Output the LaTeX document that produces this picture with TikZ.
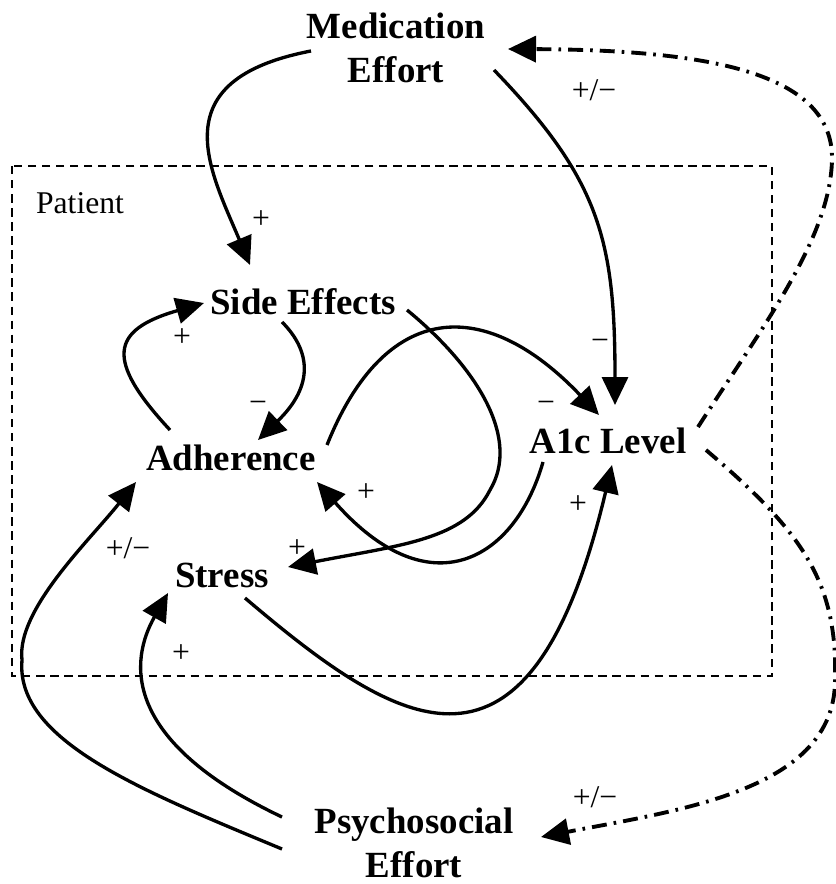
\documentclass[tikz,border=0pt]{standalone}
\usepackage{fontspec}
\setmainfont{Liberation Serif}
\usetikzlibrary{arrows.meta}

\begin{document}
\begin{tikzpicture}[x=0.02cm, y=-0.02cm, every node/.style={font=\fontsize{18}{21}\selectfont}]
  \tikzstyle{var}=[font=\bfseries\fontsize{21}{25}\selectfont,align=center,inner sep=0pt]
  \tikzstyle{link}=[-{Triangle[length=0.56cm,width=0.52cm]},line width=1.9pt]
  \tikzstyle{policy}=[link,line width=2.2pt,dash pattern=on 8.5pt off 4pt on 1.5pt off 4pt]
  \useasboundingbox (0,0) rectangle (835,884);
  % patient boundary
  \draw[dash pattern=on 4.8pt off 3.2pt,line width=1pt] (12,166) rectangle (772,676);
  \node (pat) at (80,203) {Patient};
  \node[var] (med) at (396,48) {Medication\\Effort};
  \node[var] (side) at (303,302) {Side Effects};
  \node[var] (adh) at (231,458) {Adherence};
  \node[var] (aic) at (608,441) {A1c Level};
  \node[var] (str) at (222,575) {Stress};
  \node[var] (psy) at (414,843) {Psychosocial\\Effort};
  \draw[link] ([shift={(-85,3)}]med.center) .. controls (160,80) and (210,170) .. ([shift={(-53,-37)}]side.center);
  \draw[link] ([shift={(98,22)}]med.center) .. controls (600,180) and (615,240) .. ([shift={(7,-36)}]aic.center);
  \draw[link] ([shift={(-61,-28)}]adh.center) .. controls (105,360) and (110,330) .. ([shift={(-99,1)}]side.center);
  \draw[link] ([shift={(-21,20)}]side.center) .. controls (310,350) and (315,385) .. ([shift={(27,-18)}]adh.center);
  \draw[link] ([shift={(104,8)}]side.center) .. controls (480,370) and (520,440) .. (490,490)
    .. controls (465,540) and (400,545) .. ([shift={(66,-8)}]str.center);
  \draw[link] ([shift={(96,-13)}]adh.center) .. controls (385,300) and (485,295) .. ([shift={(-9,-26)}]aic.center);
  \draw[link] ([shift={(-65,21)}]aic.center) .. controls (515,560) and (430,610) .. ([shift={(86,24)}]adh.center);
  \draw[link] ([shift={(23,23)}]str.center) .. controls (400,730) and (530,810) .. ([shift={(4,24)}]aic.center);
  \draw[link] ([shift={(-132,6)}]psy.center) .. controls (140,790) and (15,740) .. (22,660)
    .. controls (16,610) and (90,540) .. ([shift={(-95,24)}]adh.center);
  \draw[link] ([shift={(-132,-26)}]psy.center) .. controls (120,740) and (130,660) .. ([shift={(-54,18)}]str.center);
  \draw[policy] ([shift={(90,-14)}]aic.center) .. controls (760,330) and (830,240) .. (832,160)
    .. controls (834,70) and (700,50) .. ([shift={(112,1)}]med.center);
  \draw[policy] ([shift={(98,9)}]aic.center) .. controls (800,530) and (838,580) .. (835,680)
    .. controls (835,790) and (680,810) .. ([shift={(127,-6)}]psy.center);
  % polarities
  \node (sgMedSide) at (261,220) {+};
  \node (sgMedAic) at (594,90) {+/−};
  \node (sgAdhSide) at (182,338) {+};
  \node (sgSideAdh) at (258,407) {−};
  \node (sgMedAic2) at (600,345) {−};
  \node (sgAdhAic) at (546,407) {−};
  \node (sgAicAdh) at (366,493) {+};
  \node (sgSideStr) at (297,549) {+};
  \node (sgStrAic) at (578,505) {+};
  \node (sgPsyAdh) at (128,548) {+/−};
  \node (sgPsyStr) at (181,654) {+};
  \node (sgAicPsy) at (595,797) {+/−};
\end{tikzpicture}
\end{document}
